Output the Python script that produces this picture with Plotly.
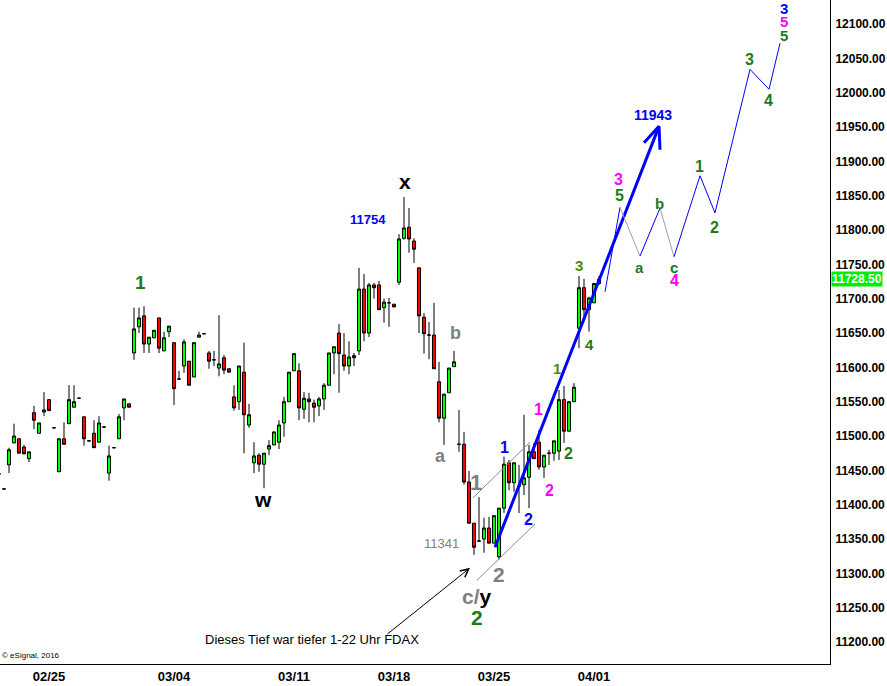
import plotly.graph_objects as go

# ---------------- data ----------------
bar_index = list(range(121))
opens = [11445,11423,11458,11490,11496,11484,11467,11534,11504,11535,11553,11512,11448,11496,11518,11542,11555,11528,11493,11504,
         11491,11513,11446,11483,11496,11541,11547,11621,11659,11675,11634,11643,11672,11624,11652,11636,11583,11602,11609,11586,
         11644,11649,11621,11611,11599,11614,11598,11557,11550,11593,11516,11461,11472,11459,11481,11487,11491,11519,11550,11595,
         11595,11539,11554,11548,11544,11554,11574,11621,11650,11618,11602,11617,11624,11714,11650,11720,11720,11687,11694,11692,
         11724,11788,11804,11784,11745,11673,11647,11647,11579,11526,11563,11601,11488,11488,11433,11373,11347,11350,11366,11344,
         11324,11395,11461,11432,11427,11429,11440,11477,11491,11455,11475,11475,11478,11553,11507,11550,11657,11716,11684,11694,
         11722]
highs = [11446,11424,11483,11518,11496,11487,11477,11544,11519,11564,11553,11513,11496,11520,11574,11574,11556,11528,11494,11523,
         11529,11514,11486,11484,11532,11554,11547,11687,11687,11689,11644,11654,11672,11652,11660,11636,11595,11641,11609,11636,
         11652,11650,11624,11624,11676,11618,11598,11574,11602,11636,11547,11491,11475,11475,11494,11506,11523,11557,11593,11620,
         11606,11564,11563,11553,11557,11577,11621,11630,11663,11650,11638,11621,11745,11736,11723,11723,11726,11700,11701,11692,
         11794,11848,11832,11788,11745,11679,11666,11694,11608,11561,11599,11624,11538,11506,11449,11373,11411,11381,11382,11384,
         11395,11470,11465,11461,11458,11531,11487,11490,11509,11472,11480,11493,11567,11573,11550,11577,11733,11729,11703,11722,
         11733]
lows = [11444,11422,11446,11490,11475,11474,11462,11510,11504,11529,11537,11511,11448,11488,11518,11542,11554,11486,11492,11483,
        11491,11512,11435,11482,11496,11523,11542,11611,11650,11621,11621,11643,11621,11624,11644,11545,11582,11592,11574,11586,
        11644,11648,11598,11602,11587,11590,11593,11537,11538,11475,11512,11446,11448,11424,11472,11487,11481,11499,11550,11595,
        11523,11525,11520,11520,11529,11538,11574,11590,11563,11595,11590,11602,11618,11638,11644,11700,11684,11665,11659,11688,
        11720,11786,11767,11752,11650,11620,11612,11598,11520,11487,11563,11601,11477,11429,11373,11327,11346,11330,11344,11344,
        11320,11388,11421,11419,11388,11414,11395,11467,11451,11439,11458,11464,11465,11490,11507,11550,11628,11668,11652,11694,
        11720]
closes = [11445,11423,11480,11500,11475,11474,11477,11523,11519,11538,11537,11512,11496,11488,11553,11550,11555,11496,11493,11483,
          11519,11513,11471,11483,11528,11554,11542,11656,11672,11634,11644,11654,11628,11643,11660,11569,11583,11637,11574,11636,
          11647,11649,11609,11611,11605,11596,11593,11541,11602,11531,11531,11471,11459,11475,11486,11506,11516,11550,11593,11620,
          11541,11555,11550,11542,11554,11574,11621,11630,11620,11602,11615,11614,11714,11650,11720,11716,11684,11695,11694,11688,
          11787,11803,11787,11772,11675,11649,11647,11598,11526,11561,11599,11608,11488,11433,11373,11338,11347,11366,11344,11384,
          11395,11459,11432,11461,11427,11439,11477,11467,11455,11472,11475,11493,11553,11507,11550,11571,11716,11684,11701,11722,
          11728.5]

date_ticks = [10, 35, 59, 79, 99, 119]
date_labels = ["02/25", "03/04", "03/11", "03/18", "03/25", "04/01"]
price_ticks = list(range(11200, 12101, 50))
last_price = 11728.5

# projected wave path (bar index, price) and segment colours
path_x = [121.2, 124.2, 128.2, 132.2, 135.0, 140.2, 143.2, 150.2, 154.0, 156.2]
path_y = [11710, 11833, 11762, 11832, 11761, 11879, 11825, 12034, 12005, 12072]
path_colors = ["blue", "gray", "blue", "gray", "blue", "blue", "blue", "blue", "blue"]

# target arrow (start, tip) and its head
target_x = [99.2, 132.0]
target_y = [11338, 11951]
target_head_x = [129.0, 132.0, 132.2]
target_head_y = [11927, 11951, 11917]

# channel lines
chan_upper_x = [94.8, 106.2]
chan_upper_y = [11410, 11491]
chan_lower_x = [95.6, 107.2]
chan_lower_y = [11290, 11372]

GREEN = "#1a7d1a"
OLIVE = "#4f8a00"
label_text = ["1", "w", "x", "11754", "b", "a", "1", "11341", "2",
              "<span style='color:#808080'>c/</span>y", "2",
              "1", "2", "1", "2", "2", "1", "4", "3",
              "11943", "3", "5", "a", "b", "c", "4", "1", "2", "3", "4", "5", "5", "3"]
label_x = [28.2, 52.8, 81.2, 73.8, 91.2, 88.2, 95.4, 88.4, 100.0, 95.6, 95.6,
           101.0, 105.8, 107.8, 110.0, 113.8, 111.6, 118.0, 116.0,
           130.8, 123.8, 124.0, 128.0, 132.0, 135.0, 135.0, 140.0, 143.0, 150.0, 153.8, 157.0, 157.0, 157.0]
label_y = [11723, 11407, 11871, 11816, 11650, 11471, 11432, 11344, 11299, 11267, 11235,
           11484, 11378, 11538, 11421, 11475, 11598, 11634, 11749,
           11967, 11873, 11850, 11746, 11839, 11746, 11726, 11893, 11803, 12048, 11989, 12083, 12104, 12123]
label_color = [GREEN, "black", "black", "blue", "#808080", "#808080", "#808080", "#808080", "#808080", "black", GREEN,
               "blue", "blue", "#ff00ff", "#ff00ff", GREEN, OLIVE, GREEN, OLIVE,
               "blue", "#ff00ff", GREEN, GREEN, GREEN, GREEN, "#ff00ff", GREEN, GREEN, GREEN, GREEN, GREEN, "#ff00ff", "blue"]
label_size = [19, 21, 21, 13, 18, 18, 22, 13, 21, 21, 21,
              16, 16, 16, 16, 16, 15, 15, 15,
              14, 16, 16, 15, 15, 15, 16, 16, 16, 16, 16, 15, 15, 15]
label_bold = [True, True, True, True, True, True, True, False, True, True, True,
              True, True, True, True, True, True, True, True,
              True, True, True, True, True, True, True, True, True, True, True, True, True, True]

note_text = "Dieses Tief war tiefer 1-22 Uhr FDAX"
note_pos = (62.6, 11203)
note_arrow_tail = (77.4, 11210)
note_arrow_head = (94.2, 11308)

FONT = "Liberation Sans"

fig = go.Figure()

fig.add_trace(go.Candlestick(
    x=bar_index, open=opens, high=highs, low=lows, close=closes,
    increasing=dict(line=dict(color="black", width=1), fillcolor="#00ff00"),
    decreasing=dict(line=dict(color="black", width=1), fillcolor="#ff0000"),
    whiskerwidth=0, showlegend=False, hoverinfo="skip"))

# channel
for cx, cy in [(chan_upper_x, chan_upper_y), (chan_lower_x, chan_lower_y)]:
    fig.add_trace(go.Scatter(x=cx, y=cy, mode="lines", line=dict(color="#8c8c8c", width=1),
                             showlegend=False, hoverinfo="skip"))

# target arrow
fig.add_trace(go.Scatter(x=target_x, y=target_y, mode="lines", line=dict(color="#0000ff", width=3),
                         showlegend=False, hoverinfo="skip"))
fig.add_trace(go.Scatter(x=target_head_x, y=target_head_y, mode="lines", line=dict(color="#0000ff", width=3),
                         showlegend=False, hoverinfo="skip"))

# projection path
for k, col in enumerate(path_colors):
    fig.add_trace(go.Scatter(x=path_x[k:k + 2], y=path_y[k:k + 2], mode="lines",
                             line=dict(color="#0000ff" if col == "blue" else "#a0a0a0", width=1),
                             showlegend=False, hoverinfo="skip"))

annotations = []
for t, x, y, c, s, b in zip(label_text, label_x, label_y, label_color, label_size, label_bold):
    annotations.append(dict(x=x, y=y, xref="x", yref="y", text=f"<b>{t}</b>" if b else t, showarrow=False,
                            font=dict(family=FONT, size=s, color=c)))

annotations.append(dict(x=note_pos[0], y=note_pos[1], xref="x", yref="y", text=note_text, showarrow=False,
                        font=dict(family=FONT, size=13, color="black")))
annotations.append(dict(x=note_arrow_head[0], y=note_arrow_head[1], ax=note_arrow_tail[0], ay=note_arrow_tail[1],
                        xref="x", yref="y", axref="x", ayref="y", text="", showarrow=True,
                        arrowhead=5, arrowsize=1.6, arrowwidth=1, arrowcolor="black"))
annotations.append(dict(x=0.0, y=11180, xref="paper", yref="y", xanchor="left", text="© eSignal, 2016",
                        showarrow=False, font=dict(family=FONT, size=8, color="black")))
annotations.append(dict(x=1.0, y=last_price, xref="paper", yref="y", xanchor="left", xshift=1,
                        text="<b>11728.50</b>", showarrow=False, bgcolor="#00ee00", borderpad=0,
                        font=dict(family=FONT, size=12, color="white")))

fig.update_layout(
    width=887, height=686,
    margin=dict(l=0, r=57, t=0, b=22),
    paper_bgcolor="white", plot_bgcolor="white",
    boxgap=0.12,
    annotations=annotations,
    xaxis=dict(range=[0.2, 166.2], showgrid=False, zeroline=False, rangeslider=dict(visible=False),
               tickmode="array", tickvals=date_ticks, ticktext=date_labels, ticks="",
               tickfont=dict(family=FONT, size=13, color="black", weight="bold"),
               showline=True, linecolor="black", linewidth=1),
    yaxis=dict(range=[11168, 12135], side="right", showgrid=False, zeroline=False,
               tickmode="array", tickvals=price_ticks, ticktext=[f"{v:.2f}" for v in price_ticks], ticks="",
               ticklabelstandoff=2,
               tickfont=dict(family=FONT, size=12, color="black", weight="bold"),
               showline=True, linecolor="black", linewidth=1),
)

fig.write_html("out.html", config={"displayModeBar": False},
               post_script="document.body.style.margin='0';document.body.style.overflow='hidden';")
